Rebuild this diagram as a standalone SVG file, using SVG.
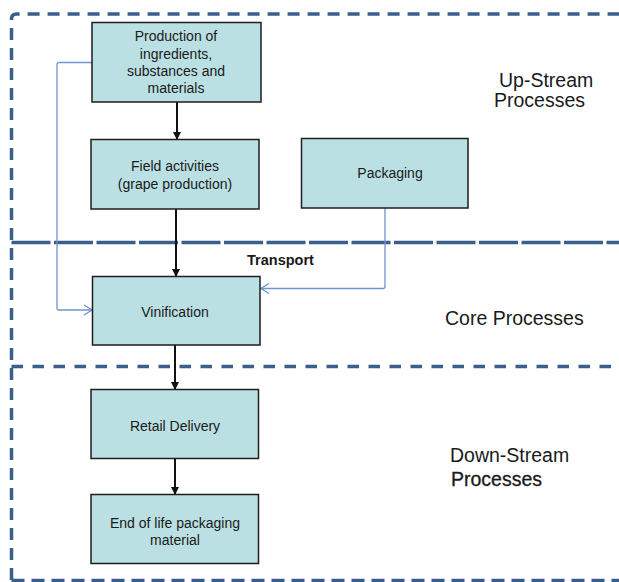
<svg xmlns="http://www.w3.org/2000/svg" width="619" height="582" viewBox="0 0 619 582">
<style>
.zone{fill:none;stroke:#3a5f8c;stroke-width:3.5}
.box{fill:#bbe0e3;stroke:#1e1e1e;stroke-width:1.5}
.t{font-family:"Liberation Sans",Arial,sans-serif;font-size:14px;fill:#1a1a1a;text-anchor:middle}
.big{font-family:"Liberation Sans",Arial,sans-serif;font-size:19.5px;fill:#1a1a1a}
.flow{fill:none;stroke:#111;stroke-width:2}
.feed{fill:none;stroke:#7294cc;stroke-width:1.3}
</style>
<defs>
<marker id="ah" markerWidth="8" markerHeight="8" refX="7" refY="4" orient="auto" markerUnits="userSpaceOnUse">
<path d="M0,0 L8,4 L0,8 Z" fill="#111"/>
</marker>
<marker id="oh" markerWidth="10" markerHeight="12" refX="9" refY="6" orient="auto" markerUnits="userSpaceOnUse">
<path d="M1,1 L9,6 L1,11" fill="none" stroke="#7294cc" stroke-width="1.3"/>
</marker>
</defs>
<g id="zones">
<path class="zone" d="M11.5,580 V19 Q11.5,14 16.5,14 H619" stroke-dasharray="12 8"/>
<path class="zone" d="M11.5,242.5 H619" stroke-width="3" stroke-dasharray="39 3.5"/>
<path class="zone" d="M11.5,366.5 H619" stroke-dasharray="11.5 9.5"/>
<path class="zone" d="M11.5,580.5 H619" stroke-width="2.7" stroke-dasharray="13 7"/>
<text class="big" x="499" y="87">Up-Stream</text>
<text class="big" x="494" y="107">Processes</text>
<text class="big" x="445" y="325">Core Processes</text>
<text class="big" x="450" y="462">Down-Stream</text>
<text class="big" x="451" y="486" stroke="#1a1a1a" stroke-width="0.3">Processes</text>
</g>
<g id="connectors">
<path class="flow" d="M177,102 V139" marker-end="url(#ah)"/>
<path class="flow" d="M176,209 V276" marker-end="url(#ah)"/>
<path class="flow" d="M175,345 V389" marker-end="url(#ah)"/>
<path class="flow" d="M175,459 V494" marker-end="url(#ah)"/>
<path class="feed" d="M92,62.5 H59 Q57,62.5 57,64.5 V308 Q57,310 59,310 H92" marker-end="url(#oh)"/>
<path class="feed" d="M385,208 V286.5 Q385,288.5 383,288.5 H261" marker-end="url(#oh)"/>
<text x="280.5" y="264.5" font-family="Liberation Sans, Arial, sans-serif" font-size="14.5" font-weight="bold" fill="#1a1a1a" text-anchor="middle">Transport</text>
</g>
<g id="production">
<rect class="box" x="92" y="22.5" width="169" height="79.5"/>
<text class="t" x="176" y="41">Production of</text>
<text class="t" x="176" y="58.5">ingredients,</text>
<text class="t" x="176" y="76">substances and</text>
<text class="t" x="176" y="93">materials</text>
</g>
<g id="field">
<rect class="box" x="91" y="139.5" width="168" height="69.5"/>
<text class="t" x="175" y="170.5">Field activities</text>
<text class="t" x="175" y="188.5">(grape production)</text>
</g>
<g id="packaging">
<rect class="box" x="301.5" y="138.5" width="166.5" height="69.5"/>
<text class="t" x="390" y="177.5">Packaging</text>
</g>
<g id="vinification">
<rect class="box" x="92.5" y="276.5" width="167.5" height="68.5"/>
<text class="t" x="175" y="316.5">Vinification</text>
</g>
<g id="retail">
<rect class="box" x="91" y="389.5" width="167.5" height="69"/>
<text class="t" x="175" y="430.5">Retail Delivery</text>
</g>
<g id="endoflife">
<rect class="box" x="91" y="494.5" width="167.5" height="69"/>
<text class="t" x="175" y="528">End of life packaging</text>
<text class="t" x="175" y="545">material</text>
</g>
</svg>
